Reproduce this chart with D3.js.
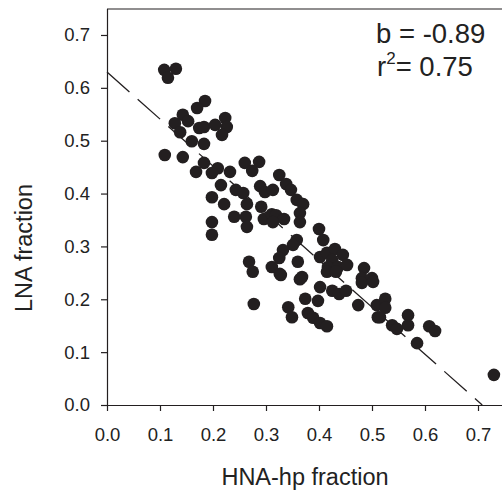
<!DOCTYPE html>
<html>
<head>
<meta charset="utf-8">
<script src="https://cdn.jsdelivr.net/npm/d3@7"></script>
<style>
  html, body { margin: 0; padding: 0; background: #fff; }
  svg { display: block; font-family: "Liberation Sans", Arial, Helvetica, sans-serif; }
</style>
</head>
<body>
<div id="chart"></div>
<script>
// HNA-hp fraction (x) and LNA fraction (y)
const hnaFraction = [
  0.108, 0.130, 0.115, 0.185, 0.170, 0.143, 0.153, 0.128, 0.138, 0.174,
  0.183, 0.204, 0.223, 0.226, 0.217, 0.160, 0.183, 0.109, 0.143, 0.183,
  0.209, 0.168, 0.198, 0.232, 0.260, 0.287, 0.274, 0.215, 0.198, 0.221,
  0.243, 0.257, 0.264, 0.240, 0.262, 0.264, 0.289, 0.298, 0.313, 0.291,
  0.296, 0.311, 0.319, 0.334, 0.313, 0.198, 0.198, 0.325, 0.338, 0.347,
  0.358, 0.370, 0.364, 0.364, 0.400, 0.408, 0.358, 0.351, 0.332, 0.325,
  0.360, 0.311, 0.326, 0.268, 0.275, 0.277, 0.402, 0.415, 0.430, 0.445,
  0.425, 0.417, 0.436, 0.453, 0.485, 0.368, 0.328, 0.364, 0.415, 0.432,
  0.481, 0.500, 0.402, 0.425, 0.438, 0.451, 0.481, 0.502, 0.374, 0.398,
  0.342, 0.349, 0.379, 0.389, 0.402, 0.415, 0.474, 0.509, 0.511, 0.525,
  0.525, 0.515, 0.568, 0.568, 0.538, 0.547, 0.585, 0.608, 0.619, 0.730
];
const lnaFraction = [
  0.634, 0.636, 0.619, 0.575, 0.562, 0.549, 0.537, 0.533, 0.516, 0.524,
  0.526, 0.530, 0.543, 0.526, 0.511, 0.499, 0.494, 0.473, 0.469, 0.458,
  0.448, 0.441, 0.439, 0.441, 0.458, 0.460, 0.443, 0.416, 0.393, 0.380,
  0.407, 0.401, 0.380, 0.356, 0.356, 0.337, 0.414, 0.403, 0.407, 0.375,
  0.352, 0.361, 0.359, 0.352, 0.346, 0.346, 0.322, 0.435, 0.418, 0.407,
  0.388, 0.380, 0.363, 0.346, 0.333, 0.312, 0.312, 0.303, 0.293, 0.278,
  0.271, 0.261, 0.248, 0.271, 0.252, 0.191, 0.280, 0.288, 0.295, 0.284,
  0.274, 0.261, 0.261, 0.265, 0.259, 0.242, 0.246, 0.238, 0.252, 0.252,
  0.240, 0.240, 0.223, 0.216, 0.210, 0.216, 0.231, 0.233, 0.201, 0.197,
  0.185, 0.166, 0.174, 0.165, 0.155, 0.149, 0.189, 0.189, 0.166, 0.201,
  0.184, 0.166, 0.170, 0.151, 0.151, 0.144, 0.117, 0.149, 0.140, 0.057
];
const xTicks = [0.0, 0.1, 0.2, 0.3, 0.4, 0.5, 0.6, 0.7];
const yTicks = [0.0, 0.1, 0.2, 0.3, 0.4, 0.5, 0.6, 0.7];
const fitIntercept = 0.63;
const fitSlope = -0.89;
const fitEndX = 0.708;
const slopeLabel = "b = -0.89";
const r2Value = "0.75";
const xTitle = "HNA-hp fraction";
const yTitle = "LNA fraction";

(function () {
const W = 502, H = 492;
const mLeft = 107, mBottom = 405, mTop = 9, mRight = 502;

const svg = d3.select("#chart").append("svg")
  .attr("width", W).attr("height", H);

const x = d3.scaleLinear().domain([0, (mRight - mLeft) / 530]).range([mLeft, mRight]);
const y = d3.scaleLinear().domain([0, (mBottom - mTop) / 528.6]).range([mBottom, mTop]);

const ink = "#231f20";

// Frame (top border)
svg.append("line")
  .attr("x1", mLeft).attr("x2", mRight + 2)
  .attr("y1", mTop).attr("y2", mTop)
  .attr("stroke", ink).attr("stroke-width", 1.2);

// Axes
const xAxis = svg.append("g")
  .attr("transform", `translate(0,${mBottom})`)
  .call(d3.axisBottom(x).tickValues(xTicks).tickFormat(d3.format(".1f")).tickSizeOuter(0).tickSize(6).tickPadding(17));
const yAxis = svg.append("g")
  .attr("transform", `translate(${mLeft},0)`)
  .call(d3.axisLeft(y).tickValues(yTicks).tickFormat(d3.format(".1f")).tickSizeOuter(0).tickSize(6).tickPadding(11));

[xAxis, yAxis].forEach(g => {
  g.select(".domain").attr("stroke", ink).attr("stroke-width", 1.2);
  g.selectAll(".tick line").attr("stroke", ink).attr("stroke-width", 1.2);
  g.selectAll(".tick text").attr("fill", "#222").attr("font-size", 18.5)
    .attr("font-family", '"Liberation Sans", Arial, sans-serif');
});
xAxis.select(".domain").attr("d", `M${mLeft},0.5H${mRight + 2}`);
yAxis.select(".domain").attr("d", `M0.5,${mBottom}V${mTop}`);

// Regression line (dashed)
svg.append("line")
  .attr("x1", x(0)).attr("y1", y(fitIntercept))
  .attr("x2", x(fitEndX)).attr("y2", y(fitIntercept + fitSlope * fitEndX))
  .attr("stroke", ink).attr("stroke-width", 1.3)
  .attr("stroke-dasharray", "30,11");

// Points
const pts = hnaFraction.map((v, i) => ({ x: v, y: lnaFraction[i] }));
svg.append("g").selectAll("circle").data(pts).enter().append("circle")
  .attr("cx", d => x(d.x)).attr("cy", d => y(d.y))
  .attr("r", 6.3).attr("fill", ink);

// Annotations
const ann = svg.append("g").attr("fill", "#222").attr("font-size", 27.5);
ann.append("text").attr("x", 376).attr("y", 43).text(slopeLabel);
const r2 = ann.append("text").attr("x", 377).attr("y", 76);
r2.append("tspan").text("r");
r2.append("tspan").attr("font-size", 17).attr("dy", -12).text("2");
r2.append("tspan").attr("dy", 12).text("= " + r2Value);

// Axis titles
svg.append("text").attr("x", 305).attr("y", 485)
  .attr("text-anchor", "middle").attr("font-size", 23.5).attr("fill", "#222")
  .text(xTitle);
svg.append("text")
  .attr("transform", `translate(32,248) rotate(-90)`)
  .attr("text-anchor", "middle").attr("font-size", 23.5).attr("fill", "#222")
  .text(yTitle);
})();
</script>
</body>
</html>
